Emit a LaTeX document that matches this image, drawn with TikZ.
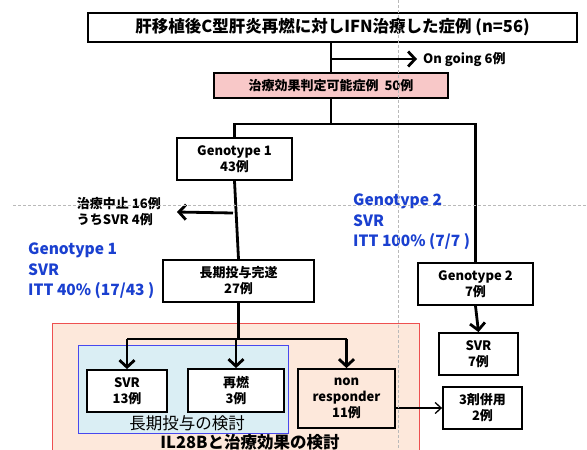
\documentclass[tikz,border=0pt]{standalone}
\usepackage{fontspec}
\setmainfont{Noto Sans CJK JP}
\usetikzlibrary{arrows.meta}
\definecolor{judgepink}{HTML}{F8C8C8}
\definecolor{peach}{HTML}{FDE8DB}
\definecolor{peachred}{HTML}{EE5050}
\definecolor{paleblue}{HTML}{DAEEF4}
\definecolor{frameblue}{HTML}{4848EE}
\definecolor{svrblue}{HTML}{1A40D0}
\tikzstyle{box}=[draw,fill=white,line width=1.8pt,align=center,inner sep=1pt,font=\bfseries\fontsize{13}{16}\selectfont]
\tikzstyle{link}=[line width=2.8pt]
\tikzstyle{linkarr}=[line width=2.8pt,-{Straight Barb[length=7pt,width=15pt,line width=2.8pt]}]
\tikzstyle{bluetxt}=[anchor=north west,align=left,inner sep=0pt,text=svrblue,font=\bfseries\fontsize{15.5}{20.5}\selectfont]
\tikzstyle{guide}=[gray!55,line width=0.7pt,dash pattern=on 2.5pt off 2.5pt]

\begin{document}
\begin{tikzpicture}[x=1pt,y=-1pt]
  \useasboundingbox (0,0) rectangle (587,450);
  \fill[white] (0,0) rectangle (587,450);
  % study regions
  \draw[peachred,fill=peach,line width=1pt] (52,323) rectangle (419,455);
  \draw[frameblue,fill=paleblue,line width=1pt] (78,345) rectangle (288,433);

  \node[box,minimum width=489pt,minimum height=29pt,font=\bfseries\fontsize{16.5}{18}\selectfont] (title) at (332.5,27.5) {肝移植後C型肝炎再燃に対しIFN治療した症例 (n=56)};
  \node[box,fill=judgepink,minimum width=234pt,minimum height=25pt] (judge) at (331,85.5) {治療効果判定可能症例\ \ 50例};
  \node[box,minimum width=115pt,minimum height=42pt] (geno1) at (234.5,159) {Genotype 1\\43例};
  \node[box,minimum width=151pt,minimum height=42pt] (long) at (238.5,281) {長期投与完遂\\27例};
  \node[box,minimum width=115pt,minimum height=42pt] (geno2) at (475.5,284) {Genotype 2\\7例};
  \node[box,minimum width=80pt,minimum height=42pt] (svr13) at (127,391) {SVR\\13例};
  \node[box,minimum width=96pt,minimum height=43pt] (relapse) at (236,390.5) {再燃\\3例};
  \node[box,fill=peach,minimum width=97pt,minimum height=59pt] (nonresp) at (346.5,398.5) {non\\responder\\11例};
  \node[box,minimum width=79pt,minimum height=42pt] (svr7) at (478.5,354) {SVR\\7例};
  \node[box,minimum width=79pt,minimum height=42pt] (triple) at (482.5,408) {3剤併用\\2例};

  \node[anchor=west,inner sep=0pt,font=\bfseries\fontsize{13}{16}\selectfont] (ongoing) at (423,59) {On going 6例};
  \node[anchor=east,align=left,inner sep=0pt,font=\bfseries\fontsize{13}{16}\selectfont] (stop) at (161,212) {治療中止 16例\\うちSVR 4例};
  \node[bluetxt] (g1svr) at (28,243) {Genotype 1\\SVR\\ITT 40\% (17/43 )};
  \node[bluetxt] (g2svr) at (353,194) {Genotype 2\\SVR\\ITT 100\% (7/7 )};
  \node[inner sep=0pt,font=\fontsize{16.5}{18}\selectfont] (longlbl) at (187,423) {長期投与の検討};
  \node[inner sep=0pt,font=\bfseries\fontsize{16.5}{18}\selectfont] (il28b) at (250,442) {IL28Bと治療効果の検討};

  \draw[link] (title.south -| judge.north) -- (judge.north);
  \draw[linkarr] (judge.north |- ongoing.west) -- ([xshift=-6pt]ongoing.west);
  \draw[link] (judge.south) -- ++(0,25) coordinate (split);
  \draw[link] (geno1.north) |- (split) -| (geno2.north);
  \draw[link] (geno1.south) -- (long.north);
  \draw[linkarr] (233,213) -- ([xshift=16pt]stop.east);
  \draw[link] (long.south) -- ++(0,36) coordinate (fork);
  \draw[link] (svr13.north |- fork) -- (nonresp.north |- fork);
  \foreach \n in {svr13,relapse,nonresp}
    \draw[linkarr] (\n.north |- fork) -- (\n.north);
  \draw[linkarr] (geno2.south) -- (svr7.north);
  \draw[line width=1.3pt,-{Straight Barb[length=6pt,width=11pt,line width=1.3pt]}] (nonresp.east |- triple.west) -- (triple.west);

  % guide lines
  \draw[guide] (398,0) -- (398,450);
  \draw[guide] (13,205) -- (587,205);
\end{tikzpicture}
\end{document}
